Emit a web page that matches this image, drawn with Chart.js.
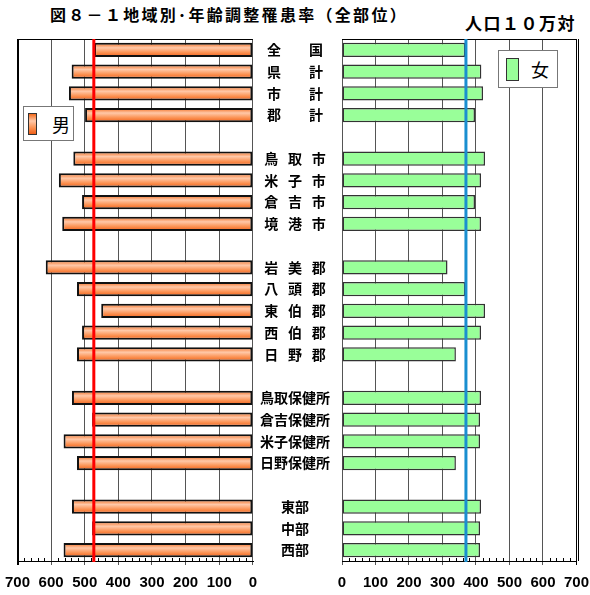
<!DOCTYPE html>
<html>
<head>
<meta charset="utf-8">
<script src="https://cdn.jsdelivr.net/npm/chart.js@4"></script>
<style>
  body { margin: 0; background: #fff; width: 590px; height: 595px; position: relative; overflow: hidden; font-family: "Noto Sans CJK JP", sans-serif; }
  canvas { position: absolute; top: 0; }
  #maleChart { left: -4px; }
  #femaleChart { left: 253px; }
  .title { position: absolute; left: 50px; top: 2px; font-size: 16px; font-weight: bold; letter-spacing: 2.3px; white-space: nowrap; }
  .unit { position: absolute; left: 465px; top: 10px; font-size: 17px; font-weight: bold; letter-spacing: 1.5px; white-space: nowrap; }
  .legend { position: absolute; background: #fff; border: 1px solid #777; box-sizing: border-box; }
  .legend .swatch { position: absolute; box-sizing: border-box; border: 1px solid #333; }
  .legend span { position: absolute; font-size: 18px; line-height: 1; }
</style>
</head>
<body>
<div class="title">図８－１地域別･年齢調整罹患率（全部位）</div>
<div class="unit">人口１０万対</div>
<canvas id="maleChart" width="270" height="595"></canvas>
<canvas id="femaleChart" width="345" height="595"></canvas>
<div class="legend" style="left:23px;top:106px;width:51px;height:35px;">
  <div class="swatch" style="left:4px;top:6px;width:9px;height:22px;background:linear-gradient(#f26a1b,#ffc8a8 35%,#fb9050 70%,#f0601a);"></div>
  <span style="left:28px;top:8px;">男</span>
</div>
<div class="legend" style="left:498px;top:50px;width:60px;height:38px;">
  <div class="swatch" style="left:7px;top:7px;width:13px;height:23px;background:#99ff99;"></div>
  <span style="left:32px;top:9px;">女</span>
</div>
<script>
// rows, top to bottom ('' = blank spacer row)
const categories = [
  '全　　国', '県　　計', '市　　計', '郡　　計', '',
  '鳥\u2002\u2009取\u2002\u2009市', '米\u2002\u2009子\u2002\u2009市', '倉\u2002\u2009吉\u2002\u2009市', '境\u2002\u2009港\u2002\u2009市', '',
  '岩\u2002\u2009美\u2002\u2009郡', '八\u2002\u2009頭\u2002\u2009郡', '東\u2002\u2009伯\u2002\u2009郡', '西\u2002\u2009伯\u2002\u2009郡', '日\u2002\u2009野\u2002\u2009郡', '',
  '鳥取保健所', '倉吉保健所', '米子保健所', '日野保健所', '',
  '東部', '中部', '西部'
];
const maleRates = [472, 539, 547, 499, null, 534, 577, 508, 567, null, 616, 523, 451, 508, 523, null, 538, 478, 563, 523, null, 538, 478, 563];
const femaleRates = [368, 416, 421, 397, null, 427, 415, 397, 415, null, 315, 368, 427, 415, 340, null, 415, 412, 412, 340, null, 415, 412, 412];
const maleNational = 473;
const femaleNational = 370;
const axisMax = 700;
const axisStep = 100;
const minorStep = 20;

const barShare = 0.65;

function orangeFill(ctx) {
  const chart = ctx.chart;
  const y = chart.scales.y;
  if (!y || ctx.dataIndex === undefined) return '#f58a3c';
  const c = y.getPixelForValue(ctx.dataIndex);
  const h = y.height / categories.length * barShare / 2;
  if (!isFinite(c) || !isFinite(h) || h <= 0) return '#f58a3c';
  const g = chart.ctx.createLinearGradient(0, c - h, 0, c + h);
  g.addColorStop(0, '#f26a1b');
  g.addColorStop(0.35, '#ffc8a8');
  g.addColorStop(0.7, '#fb9050');
  g.addColorStop(1, '#f0601a');
  return g;
}

// top border, minor ticks, national reference line
const frame = {
  id: 'frame',
  afterDatasetsDraw(chart, args, opts) {
    const { ctx, chartArea: a, scales: { x } } = chart;
    ctx.save();
    ctx.strokeStyle = '#000';
    ctx.lineWidth = 1;
    ctx.beginPath();
    ctx.moveTo(a.left, a.top + 0.5);
    ctx.lineTo(a.right, a.top + 0.5);
    for (let v = minorStep; v < axisMax; v += minorStep) {
      if (v % axisStep === 0) continue;
      const px = Math.round(x.getPixelForValue(v)) + 0.5;
      ctx.moveTo(px, a.bottom);
      ctx.lineTo(px, a.bottom - 3);
    }
    if (opts.double) {
      const ex = Math.round(x.getPixelForValue(axisMax)) + 2.5;
      ctx.moveTo(ex, a.top);
      ctx.lineTo(ex, a.bottom);
    }
    ctx.stroke();
    ctx.strokeStyle = opts.color;
    ctx.lineWidth = 3;
    const rx = x.getPixelForValue(opts.value);
    ctx.beginPath();
    ctx.moveTo(rx, a.top);
    ctx.lineTo(rx, a.bottom + 1);
    ctx.stroke();
    ctx.restore();
  }
};

const tickFont = { family: 'Liberation Sans', size: 15, weight: 'bold' };

function xScale(reverse, edgeWidth) {
  return {
    reverse: reverse,
    min: 0,
    max: axisMax,
    ticks: { stepSize: axisStep, font: tickFont, color: '#000', padding: 9, maxRotation: 0, autoSkip: false },
    grid: {
      color: (c) => (c.tick && c.tick.value === axisMax) ? '#000' : '#555',
      lineWidth: (c) => (c.tick && c.tick.value === axisMax) ? edgeWidth : 1,
      tickLength: 4
    },
    border: { color: '#000', width: 1 },
    afterFit(s) { s.height = 34; }
  };
}

new Chart(document.getElementById('maleChart'), {
  type: 'bar',
  data: {
    labels: categories,
    datasets: [{
      data: maleRates,
      backgroundColor: orangeFill,
      borderColor: '#111',
      borderWidth: 2,
      borderSkipped: false,
      barPercentage: barShare,
      categoryPercentage: 1
    }]
  },
  options: {
    indexAxis: 'y',
    responsive: false,
    animation: false,
    layout: { padding: { left: 18, right: 13, top: 39, bottom: 0 } },
    plugins: {
      legend: { display: false },
      tooltip: { enabled: false },
      frame: { color: '#ff0000', value: maleNational, double: false }
    },
    scales: {
      x: xScale(true, 2),
      y: { display: false }
    }
  },
  plugins: [frame]
});

new Chart(document.getElementById('femaleChart'), {
  type: 'bar',
  data: {
    labels: categories,
    datasets: [{
      data: femaleRates,
      backgroundColor: '#99ff99',
      borderColor: '#333',
      borderWidth: 1.5,
      borderSkipped: false,
      barPercentage: barShare,
      categoryPercentage: 1
    }]
  },
  options: {
    indexAxis: 'y',
    responsive: false,
    animation: false,
    layout: { padding: { left: 0, right: 13, top: 39, bottom: 0 } },
    plugins: {
      legend: { display: false },
      tooltip: { enabled: false },
      frame: { color: '#1a8fd0', value: femaleNational, double: true }
    },
    scales: {
      x: xScale(false, 1),
      y: {
        position: 'left',
        grid: { display: false, drawTicks: false },
        border: { display: false },
        ticks: {
          crossAlign: 'center',
          padding: 12,
          autoSkip: false,
          color: '#000',
          font: { family: 'Noto Sans CJK JP', size: 14, weight: 'bold' }
        },
        afterFit(s) { s.width = 89; }
      }
    }
  },
  plugins: [frame]
});
</script>
</body>
</html>
